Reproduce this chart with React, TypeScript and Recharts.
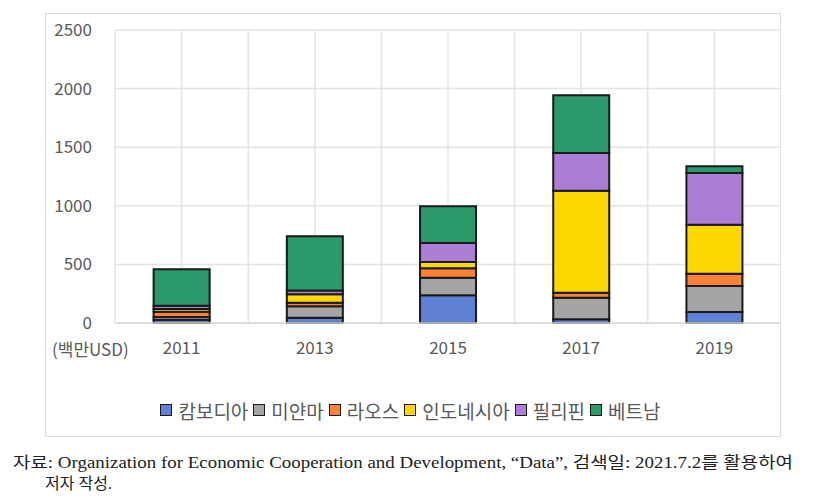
import React from "react";
import { BarChart, Bar, XAxis, YAxis, CartesianGrid, Legend } from "recharts";

const years = ["2011", "2013", "2015", "2017", "2019"];
const cambodia = [28, 45, 236, 31, 94];
const myanmar = [23, 98, 151, 185, 222];
const laos = [46, 30, 80, 43, 105];
const indonesia = [23, 72, 54, 870, 418];
const philippines = [28, 33, 162, 321, 441];
const vietnam = [310, 462, 313, 493, 57];
const yTicks = [0, 500, 1000, 1500, 2000, 2500];

const SERIES = [
  { key: "cambodia", name: "캄보디아", color: "#5f80d4", values: cambodia },
  { key: "myanmar", name: "미얀마", color: "#a5a5a5", values: myanmar },
  { key: "laos", name: "라오스", color: "#fd8235", values: laos },
  { key: "indonesia", name: "인도네시아", color: "#ffd700", values: indonesia },
  { key: "philippines", name: "필리핀", color: "#ad7ed6", values: philippines },
  { key: "vietnam", name: "베트남", color: "#2a9a6b", values: vietnam },
];

const data = years.map((year, i) => {
  const row: Record<string, string | number> = { year };
  SERIES.forEach((s) => (row[s.key] = s.values[i]));
  return row;
});

const FONT = "'Noto Sans CJK KR', 'Noto Sans', sans-serif";
const GRID = "#e4e4e4";
const TEXT = "#595959";

// legend: bordered squares, tight spacing
const renderLegend = () => (
  <div
    style={{
      height: 54,
      display: "flex",
      alignItems: "center",
      justifyContent: "center",
      fontFamily: FONT,
      fontSize: 19,
      color: TEXT,
    }}
  >
    {SERIES.map((s) => (
      <span key={s.key} style={{ display: "flex", alignItems: "center", marginRight: 5 }}>
        <span
          style={{
            width: 10,
            height: 10,
            background: s.color,
            border: "1.5px solid #1a1a1a",
            marginRight: 6,
          }}
        />
        <span>{s.name}</span>
      </span>
    ))}
  </div>
);

// grid lines at category centres and boundaries
const verticalLines = ({ offset }: any) => {
  const step = offset.width / (years.length * 2);
  return Array.from({ length: years.length * 2 + 1 }, (_, i) => offset.left + i * step);
};

export default function App() {
  return (
    <div style={{ position: "absolute", left: 0, top: 0, width: 815, height: 500, background: "#fff" }}>
      <div
        style={{
          position: "absolute",
          left: 45,
          top: 13,
          width: 736,
          height: 424,
          border: "1.5px solid #d9d9d9",
          boxSizing: "border-box",
        }}
      />
      <div style={{ position: "absolute", left: 45, top: 13 }}>
        <BarChart
          width={736}
          height={424}
          data={data}
          margin={{ top: 17, right: 0, bottom: 0, left: 0 }}
          barCategoryGap="29%"
        >
          <CartesianGrid stroke={GRID} strokeWidth={1.5} verticalCoordinatesGenerator={verticalLines} />
          <XAxis
            dataKey="year"
            height={60}
            tickLine={false}
            tickSize={0}
            tickMargin={19}
            axisLine={{ stroke: "#d9d9d9", strokeWidth: 1.5 }}
            tick={{ fill: TEXT, fontSize: 17, fontFamily: FONT }}
          />
          <YAxis
            width={70}
            domain={[0, 2500]}
            ticks={yTicks}
            axisLine={false}
            tickLine={false}
            tickSize={0}
            tickMargin={23}
            tick={{ fill: TEXT, fontSize: 17, fontFamily: FONT }}
          />
          <Legend verticalAlign="bottom" content={renderLegend} />
          {SERIES.map((s) => (
            <Bar
              key={s.key}
              dataKey={s.key}
              name={s.name}
              stackId="a"
              fill={s.color}
              stroke="#1a1a1a"
              strokeWidth={2}
              isAnimationActive={false}
            />
          ))}
        </BarChart>
      </div>
      <div
        style={{
          position: "absolute",
          left: 52,
          top: 336,
          fontFamily: FONT,
          fontSize: 17,
          color: TEXT,
          whiteSpace: "nowrap",
        }}
      >
        (백만USD)
      </div>
      <svg width={815} height={500} style={{ position: "absolute", left: 0, top: 0, pointerEvents: "none" }}>
        <text
          x={13}
          y={468}
          fontSize={16}
          fill="#222"
          fontFamily="'Liberation Serif', 'Noto Sans CJK KR', serif"
          textLength={780}
          lengthAdjust="spacingAndGlyphs"
        >
          자료: Organization for Economic Cooperation and Development, “Data”, 검색일: 2021.7.2를 활용하여
        </text>
        <text x={45} y={489} fontSize={16} fill="#222" fontFamily="'Liberation Serif', 'Noto Sans CJK KR', serif">
          저자 작성.
        </text>
      </svg>
    </div>
  );
}
